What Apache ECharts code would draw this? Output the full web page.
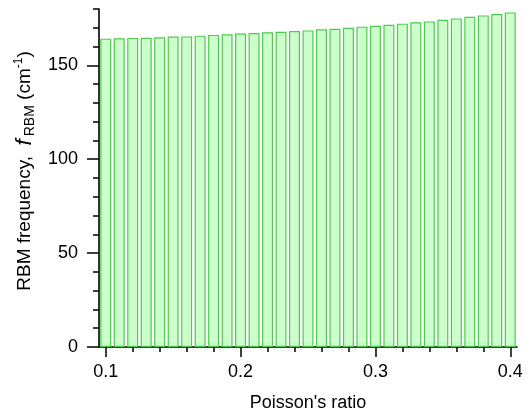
<!DOCTYPE html>
<html><head><meta charset="utf-8">
<script src="https://cdn.jsdelivr.net/npm/echarts@6/dist/echarts.min.js"></script>
<style>html,body{margin:0;padding:0;background:#fff}#c{width:528px;height:417px}</style>
</head><body><div id="c"></div>
<script>
const poisson = [0.10,0.11,0.12,0.13,0.14,0.15,0.16,0.17,0.18,0.19,0.20,0.21,0.22,0.23,0.24,0.25,0.26,0.27,0.28,0.29,0.30,0.31,0.32,0.33,0.34,0.35,0.36,0.37,0.38,0.39,0.40];
const frequency = [164.2,164.4,164.6,164.7,164.9,165.3,165.4,165.8,166.2,166.5,166.9,167.2,167.6,167.9,168.3,168.6,169.2,169.5,170.0,170.6,171.1,171.6,172.2,172.9,173.4,174.3,175.0,175.9,176.6,177.3,178.2];
const xMajor = [0.1,0.2,0.3,0.4];
const xMinor = [0.12,0.14,0.16,0.18,0.22,0.24,0.26,0.28,0.32,0.34,0.36,0.38];
const yMajor = [0,50,100,150];
const yMinor = [10,20,30,40,60,70,80,90,110,120,130,140,160,170,180];

const font = 'Liberation Sans, Arial, sans-serif';
const chart = echarts.init(document.getElementById('c'));
const axisLine = {show:true, lineStyle:{color:'#000', width:1.6}};
chart.setOption({
  animation:false,
  grid:{left:99, right:11, top:9, bottom:69},
  xAxis:[{
    type:'value', min:0.095, max:0.405,
    axisLine: axisLine,
    splitLine:{show:false},
    axisTick:{show:true, customValues:xMajor, length:10, lineStyle:{color:'#000', width:1.5}},
    axisLabel:{customValues:xMajor, margin:16, fontFamily:font, fontSize:18, color:'#000', formatter:v=>v.toFixed(1)},
    name:"Poisson's ratio", nameLocation:'middle', nameGap:47,
    nameTextStyle:{fontFamily:font, fontSize:18, color:'#000'}
  },{
    type:'value', min:0.095, max:0.405, position:'bottom',
    axisLine:{show:false}, splitLine:{show:false},
    axisTick:{show:true, customValues:xMinor, length:5, lineStyle:{color:'#000', width:1.5}},
    axisLabel:{show:false}
  }],
  yAxis:[{
    type:'value', min:0, max:180,
    axisLine: axisLine,
    splitLine:{show:false},
    axisTick:{show:true, customValues:yMajor, length:12, lineStyle:{color:'#000', width:1.5}},
    axisLabel:{customValues:yMajor, margin:21, fontFamily:font, fontSize:18, color:'#000'},
    name:'{n|RBM frequency,  }{f|f}{s|RBM}{n| (cm}{p|-1}{n|)}',
    nameLocation:'middle', nameRotate:90, nameGap:52,
    nameTextStyle:{fontFamily:font, fontSize:19, color:'#000', padding:[0,0,0,14],
      rich:{
        n:{fontFamily:font, fontSize:19, color:'#000'},
        f:{fontFamily:font, fontSize:22, fontStyle:'italic', color:'#000', padding:[0,3,0,0]},
        s:{fontFamily:font, fontSize:14, color:'#000', verticalAlign:'bottom', padding:[10,0,0,0]},
        p:{fontFamily:font, fontSize:12, color:'#000', verticalAlign:'top', padding:[0,0,9,0]}
      }}
  },{
    type:'value', min:0, max:180, position:'left',
    axisLine:{show:false}, splitLine:{show:false},
    axisTick:{show:true, customValues:yMinor, length:6, lineStyle:{color:'#000', width:1.5}},
    axisLabel:{show:false}
  }],
  series:[{
    type:'bar',
    xAxisIndex:0, yAxisIndex:0,
    barWidth:11,
    data: poisson.map((x,i)=>[x, frequency[i]]),
    itemStyle:{color:'#ccffcc', borderColor:'#4ccc4c', borderWidth:1.2}
  }]
});
</script></body></html>
